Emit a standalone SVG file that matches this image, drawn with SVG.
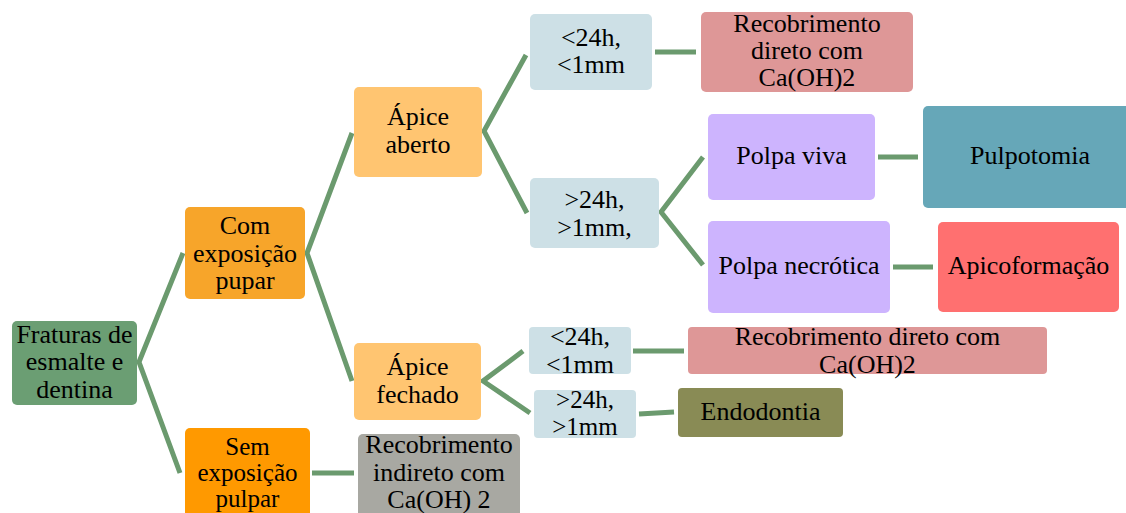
<svg xmlns="http://www.w3.org/2000/svg" width="1126" height="513" viewBox="0 0 1126 513">
<style>
.c{fill:none;stroke:#6b9a6e;stroke-width:5;stroke-linejoin:miter}
.t{font-size:26px;fill:#000;text-anchor:middle}
.s{font-size:25px}
</style>
<rect width="1126" height="513" fill="#fff"/>
<g id="connectors">
<polyline class="c" points="183,253 139,362 180,473"/>
<polyline class="c" points="352,133 307,253 352,381"/>
<line class="c" x1="312" y1="473" x2="354" y2="473"/>
<polyline class="c" points="526,55 484,131 527,213"/>
<line class="c" x1="655" y1="52" x2="696" y2="52"/>
<polyline class="c" points="703,157 661,212 703,265"/>
<line class="c" x1="878" y1="157" x2="918" y2="157"/>
<line class="c" x1="893" y1="267" x2="933" y2="267"/>
<polyline class="c" points="523,351 483,381 530,413"/>
<line class="c" x1="633" y1="351" x2="684" y2="351"/>
<line class="c" x1="639" y1="414" x2="674" y2="412"/>
</g>
<g class="t" font-family="'Liberation Serif', 'Noto Serif', FreeSerif, 'DejaVu Serif', serif">
<g id="n-fraturas"><rect x="12" y="321" width="125" height="84" rx="5" fill="#6b9e73"/>
<text x="74.5" y="343">Fraturas de</text><text x="74.5" y="370">esmalte e</text><text x="74.5" y="398">dentina</text></g>
<g id="n-com"><rect x="185" y="207" width="120" height="92" rx="5" fill="#f7a52a"/>
<text x="245" y="234">Com</text><text x="245" y="262">exposição</text><text x="245" y="289">pupar</text></g>
<g id="n-sem" class="s"><rect x="185" y="428" width="125" height="95" rx="5" fill="#ff9900"/>
<text x="247.5" y="455">Sem</text><text x="247.5" y="481">exposição</text><text x="247.5" y="507">pulpar</text></g>
<g id="n-aberto"><rect x="354" y="87" width="128" height="90" rx="5" fill="#ffc571"/>
<text x="418" y="125">Ápice</text><text x="418" y="153">aberto</text></g>
<g id="n-fechado"><rect x="354" y="343" width="127" height="77" rx="5" fill="#ffc571"/>
<text x="417.5" y="375">Ápice</text><text x="417.5" y="403">fechado</text></g>
<g id="n-lt1"><rect x="530" y="14" width="122" height="76" rx="5" fill="#cde0e6"/>
<text x="591" y="46">&lt;24h,</text><text x="591" y="73">&lt;1mm</text></g>
<g id="n-gt1"><rect x="530" y="178" width="129" height="70" rx="5" fill="#cde0e6"/>
<text x="594.5" y="208">&gt;24h,</text><text x="594.5" y="236">&gt;1mm,</text></g>
<g id="n-rec1"><rect x="701" y="12" width="212" height="80" rx="5" fill="#de9797"/>
<text x="807" y="32">Recobrimento</text><text x="807" y="59">direto com</text><text x="807" y="86">Ca(OH)2</text></g>
<g id="n-viva"><rect x="708" y="114" width="167" height="86" rx="5" fill="#cdb4fe"/>
<text x="791.5" y="164">Polpa viva</text></g>
<g id="n-pulpotomia"><rect x="923" y="106" width="213" height="102" rx="5" fill="#66a7b8"/>
<text x="1030" y="164">Pulpotomia</text></g>
<g id="n-necrotica"><rect x="708" y="221" width="182" height="92" rx="5" fill="#cdb4fe"/>
<text x="799" y="274">Polpa necrótica</text></g>
<g id="n-apico"><rect x="938" y="222" width="181" height="90" rx="5" fill="#ff7070"/>
<text x="1028.5" y="274">Apicoformação</text></g>
<g id="n-lt2"><rect x="529" y="327" width="102" height="47" rx="4" fill="#cde0e6"/>
<text x="580" y="345">&lt;24h,</text><text x="580" y="373">&lt;1mm</text></g>
<g id="n-gt2" class="s"><rect x="534" y="390" width="102" height="48" rx="4" fill="#cde0e6"/>
<text x="585" y="408">&gt;24h,</text><text x="585" y="435">&gt;1mm</text></g>
<g id="n-rec2"><rect x="688" y="327" width="359" height="47" rx="4" fill="#de9797"/>
<text x="867.5" y="345">Recobrimento direto com</text><text x="867.5" y="373">Ca(OH)2</text></g>
<g id="n-endo"><rect x="678" y="388" width="165" height="49" rx="4" fill="#898b55"/>
<text x="760.5" y="420">Endodontia</text></g>
<g id="n-indireto"><rect x="358" y="434" width="162" height="89" rx="5" fill="#a8a8a2"/>
<text x="439" y="453">Recobrimento</text><text x="439" y="481">indireto com</text><text x="439" y="508">Ca(OH) 2</text></g>
</g>
</svg>
